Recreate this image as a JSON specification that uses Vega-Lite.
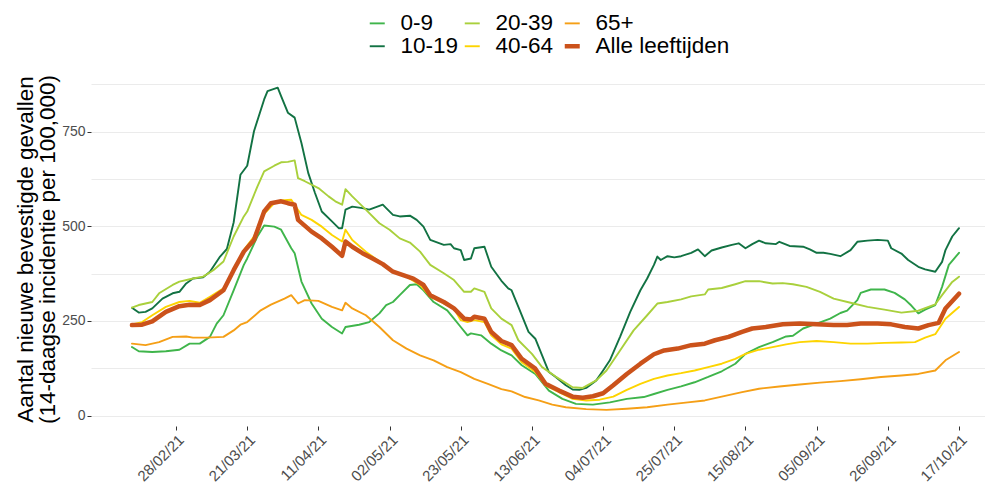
{
"$schema": "https://vega.github.io/schema/vega-lite/v6.json",
"autosize": {"type": "none"},
"padding": {"left": 91, "top": 72, "right": 0, "bottom": 62},
"width": 894,
"height": 354,
"background": "white",
"config": {"view": {"stroke": null}, "font": "Liberation Sans"},
"datasets": {
"d": [
{"groep":"0-9","datum":"2021-02-15","waarde":181},{"groep":"0-9","datum":"2021-02-17","waarde":170},{"groep":"0-9","datum":"2021-02-21","waarde":168},{"groep":"0-9","datum":"2021-02-25","waarde":170},{"groep":"0-9","datum":"2021-03-01","waarde":174},{"groep":"0-9","datum":"2021-03-04","waarde":190},{"groep":"0-9","datum":"2021-03-07","waarde":190},{"groep":"0-9","datum":"2021-03-10","waarde":208},{"groep":"0-9","datum":"2021-03-12","waarde":243},{"groep":"0-9","datum":"2021-03-14","waarde":265},{"groep":"0-9","datum":"2021-03-17","waarde":331},{"groep":"0-9","datum":"2021-03-20","waarde":398},{"groep":"0-9","datum":"2021-03-21","waarde":415},{"groep":"0-9","datum":"2021-03-24","waarde":473},{"groep":"0-9","datum":"2021-03-26","waarde":502},{"groep":"0-9","datum":"2021-03-29","waarde":499},{"groep":"0-9","datum":"2021-03-31","waarde":491},{"groep":"0-9","datum":"2021-04-03","waarde":442},{"groep":"0-9","datum":"2021-04-04","waarde":429},{"groep":"0-9","datum":"2021-04-06","waarde":354},{"groep":"0-9","datum":"2021-04-09","waarde":296},{"groep":"0-9","datum":"2021-04-12","waarde":256},{"groep":"0-9","datum":"2021-04-15","waarde":234},{"groep":"0-9","datum":"2021-04-18","waarde":217},{"groep":"0-9","datum":"2021-04-19","waarde":234},{"groep":"0-9","datum":"2021-04-23","waarde":240},{"groep":"0-9","datum":"2021-04-26","waarde":247},{"groep":"0-9","datum":"2021-04-29","waarde":270},{"groep":"0-9","datum":"2021-05-01","waarde":292},{"groep":"0-9","datum":"2021-05-03","waarde":300},{"groep":"0-9","datum":"2021-05-05","waarde":318},{"groep":"0-9","datum":"2021-05-08","waarde":345},{"groep":"0-9","datum":"2021-05-10","waarde":347},{"groep":"0-9","datum":"2021-05-12","waarde":331},{"groep":"0-9","datum":"2021-05-15","waarde":300},{"groep":"0-9","datum":"2021-05-19","waarde":278},{"groep":"0-9","datum":"2021-05-21","waarde":256},{"groep":"0-9","datum":"2021-05-23","waarde":234},{"groep":"0-9","datum":"2021-05-25","waarde":212},{"groep":"0-9","datum":"2021-05-26","waarde":217},{"groep":"0-9","datum":"2021-05-29","waarde":212},{"groep":"0-9","datum":"2021-06-01","waarde":190},{"groep":"0-9","datum":"2021-06-04","waarde":172},{"groep":"0-9","datum":"2021-06-07","waarde":159},{"groep":"0-9","datum":"2021-06-10","waarde":133},{"groep":"0-9","datum":"2021-06-14","waarde":110},{"groep":"0-9","datum":"2021-06-18","waarde":66},{"groep":"0-9","datum":"2021-06-22","waarde":44},{"groep":"0-9","datum":"2021-06-26","waarde":31},{"groep":"0-9","datum":"2021-07-01","waarde":29},{"groep":"0-9","datum":"2021-07-06","waarde":35},{"groep":"0-9","datum":"2021-07-11","waarde":44},{"groep":"0-9","datum":"2021-07-16","waarde":49},{"groep":"0-9","datum":"2021-07-19","waarde":57},{"groep":"0-9","datum":"2021-07-23","waarde":68},{"groep":"0-9","datum":"2021-07-27","waarde":77},{"groep":"0-9","datum":"2021-07-31","waarde":88},{"groep":"0-9","datum":"2021-08-04","waarde":102},{"groep":"0-9","datum":"2021-08-08","waarde":117},{"groep":"0-9","datum":"2021-08-12","waarde":137},{"groep":"0-9","datum":"2021-08-15","waarde":163},{"groep":"0-9","datum":"2021-08-19","waarde":181},{"groep":"0-9","datum":"2021-08-23","waarde":194},{"groep":"0-9","datum":"2021-08-27","waarde":209},{"groep":"0-9","datum":"2021-08-29","waarde":211},{"groep":"0-9","datum":"2021-09-01","waarde":230},{"groep":"0-9","datum":"2021-09-05","waarde":243},{"groep":"0-9","datum":"2021-09-09","waarde":256},{"groep":"0-9","datum":"2021-09-12","waarde":271},{"groep":"0-9","datum":"2021-09-14","waarde":277},{"groep":"0-9","datum":"2021-09-17","waarde":305},{"groep":"0-9","datum":"2021-09-18","waarde":324},{"groep":"0-9","datum":"2021-09-21","waarde":333},{"groep":"0-9","datum":"2021-09-25","waarde":333},{"groep":"0-9","datum":"2021-09-28","waarde":324},{"groep":"0-9","datum":"2021-10-01","waarde":307},{"groep":"0-9","datum":"2021-10-03","waarde":290},{"groep":"0-9","datum":"2021-10-05","waarde":270},{"groep":"0-9","datum":"2021-10-07","waarde":280},{"groep":"0-9","datum":"2021-10-10","waarde":292},{"groep":"0-9","datum":"2021-10-12","waarde":340},{"groep":"0-9","datum":"2021-10-14","waarde":398},{"groep":"0-9","datum":"2021-10-17","waarde":430},

{"groep":"10-19","datum":"2021-02-15","waarde":285},{"groep":"10-19","datum":"2021-02-17","waarde":272},{"groep":"10-19","datum":"2021-02-19","waarde":274},{"groep":"10-19","datum":"2021-02-21","waarde":283},{"groep":"10-19","datum":"2021-02-24","waarde":309},{"groep":"10-19","datum":"2021-02-27","waarde":323},{"groep":"10-19","datum":"2021-03-01","waarde":327},{"groep":"10-19","datum":"2021-03-03","waarde":349},{"groep":"10-19","datum":"2021-03-05","waarde":362},{"groep":"10-19","datum":"2021-03-08","waarde":365},{"groep":"10-19","datum":"2021-03-10","waarde":380},{"groep":"10-19","datum":"2021-03-13","waarde":420},{"groep":"10-19","datum":"2021-03-15","waarde":440},{"groep":"10-19","datum":"2021-03-17","waarde":510},{"groep":"10-19","datum":"2021-03-19","waarde":636},{"groep":"10-19","datum":"2021-03-21","waarde":660},{"groep":"10-19","datum":"2021-03-23","waarde":751},{"groep":"10-19","datum":"2021-03-26","waarde":835},{"groep":"10-19","datum":"2021-03-27","waarde":857},{"groep":"10-19","datum":"2021-03-30","waarde":866},{"groep":"10-19","datum":"2021-03-31","waarde":844},{"groep":"10-19","datum":"2021-04-02","waarde":800},{"groep":"10-19","datum":"2021-04-04","waarde":787},{"groep":"10-19","datum":"2021-04-06","waarde":720},{"groep":"10-19","datum":"2021-04-08","waarde":641},{"groep":"10-19","datum":"2021-04-10","waarde":588},{"groep":"10-19","datum":"2021-04-12","waarde":539},{"groep":"10-19","datum":"2021-04-15","waarde":513},{"groep":"10-19","datum":"2021-04-17","waarde":495},{"groep":"10-19","datum":"2021-04-18","waarde":495},{"groep":"10-19","datum":"2021-04-19","waarde":544},{"groep":"10-19","datum":"2021-04-21","waarde":552},{"groep":"10-19","datum":"2021-04-24","waarde":548},{"groep":"10-19","datum":"2021-04-26","waarde":544},{"groep":"10-19","datum":"2021-04-30","waarde":557},{"groep":"10-19","datum":"2021-05-01","waarde":548},{"groep":"10-19","datum":"2021-05-03","waarde":530},{"groep":"10-19","datum":"2021-05-05","waarde":526},{"groep":"10-19","datum":"2021-05-08","waarde":528},{"groep":"10-19","datum":"2021-05-10","waarde":517},{"groep":"10-19","datum":"2021-05-12","waarde":499},{"groep":"10-19","datum":"2021-05-14","waarde":464},{"groep":"10-19","datum":"2021-05-18","waarde":451},{"groep":"10-19","datum":"2021-05-20","waarde":453},{"groep":"10-19","datum":"2021-05-21","waarde":442},{"groep":"10-19","datum":"2021-05-23","waarde":437},{"groep":"10-19","datum":"2021-05-24","waarde":411},{"groep":"10-19","datum":"2021-05-26","waarde":415},{"groep":"10-19","datum":"2021-05-27","waarde":442},{"groep":"10-19","datum":"2021-05-30","waarde":446},{"groep":"10-19","datum":"2021-06-01","waarde":393},{"groep":"10-19","datum":"2021-06-04","waarde":356},{"groep":"10-19","datum":"2021-06-06","waarde":336},{"groep":"10-19","datum":"2021-06-07","waarde":331},{"groep":"10-19","datum":"2021-06-09","waarde":287},{"groep":"10-19","datum":"2021-06-12","waarde":221},{"groep":"10-19","datum":"2021-06-14","waarde":203},{"groep":"10-19","datum":"2021-06-16","waarde":159},{"groep":"10-19","datum":"2021-06-18","waarde":115},{"groep":"10-19","datum":"2021-06-20","waarde":102},{"groep":"10-19","datum":"2021-06-23","waarde":80},{"groep":"10-19","datum":"2021-06-25","waarde":69},{"groep":"10-19","datum":"2021-06-27","waarde":68},{"groep":"10-19","datum":"2021-06-29","waarde":73},{"groep":"10-19","datum":"2021-07-02","waarde":93},{"groep":"10-19","datum":"2021-07-04","waarde":119},{"groep":"10-19","datum":"2021-07-06","waarde":146},{"groep":"10-19","datum":"2021-07-09","waarde":208},{"groep":"10-19","datum":"2021-07-12","waarde":274},{"groep":"10-19","datum":"2021-07-15","waarde":331},{"groep":"10-19","datum":"2021-07-17","waarde":362},{"groep":"10-19","datum":"2021-07-19","waarde":398},{"groep":"10-19","datum":"2021-07-20","waarde":420},{"groep":"10-19","datum":"2021-07-21","waarde":411},{"groep":"10-19","datum":"2021-07-23","waarde":421},{"groep":"10-19","datum":"2021-07-25","waarde":418},{"groep":"10-19","datum":"2021-07-27","waarde":421},{"groep":"10-19","datum":"2021-07-30","waarde":430},{"groep":"10-19","datum":"2021-08-01","waarde":439},{"groep":"10-19","datum":"2021-08-03","waarde":421},{"groep":"10-19","datum":"2021-08-05","waarde":436},{"groep":"10-19","datum":"2021-08-08","waarde":444},{"groep":"10-19","datum":"2021-08-11","waarde":451},{"groep":"10-19","datum":"2021-08-13","waarde":455},{"groep":"10-19","datum":"2021-08-15","waarde":442},{"groep":"10-19","datum":"2021-08-17","waarde":453},{"groep":"10-19","datum":"2021-08-19","waarde":462},{"groep":"10-19","datum":"2021-08-21","waarde":455},{"groep":"10-19","datum":"2021-08-24","waarde":453},{"groep":"10-19","datum":"2021-08-25","waarde":459},{"groep":"10-19","datum":"2021-08-28","waarde":448},{"groep":"10-19","datum":"2021-09-01","waarde":446},{"groep":"10-19","datum":"2021-09-03","waarde":439},{"groep":"10-19","datum":"2021-09-05","waarde":430},{"groep":"10-19","datum":"2021-09-07","waarde":430},{"groep":"10-19","datum":"2021-09-09","waarde":427},{"groep":"10-19","datum":"2021-09-12","waarde":421},{"groep":"10-19","datum":"2021-09-15","waarde":437},{"groep":"10-19","datum":"2021-09-17","waarde":459},{"groep":"10-19","datum":"2021-09-20","waarde":462},{"groep":"10-19","datum":"2021-09-23","waarde":464},{"groep":"10-19","datum":"2021-09-26","waarde":462},{"groep":"10-19","datum":"2021-09-27","waarde":442},{"groep":"10-19","datum":"2021-09-30","waarde":428},{"groep":"10-19","datum":"2021-10-02","waarde":411},{"groep":"10-19","datum":"2021-10-05","waarde":393},{"groep":"10-19","datum":"2021-10-07","waarde":386},{"groep":"10-19","datum":"2021-10-10","waarde":380},{"groep":"10-19","datum":"2021-10-12","waarde":406},{"groep":"10-19","datum":"2021-10-13","waarde":437},{"groep":"10-19","datum":"2021-10-15","waarde":473},{"groep":"10-19","datum":"2021-10-17","waarde":495},

{"groep":"20-39","datum":"2021-02-15","waarde":285},{"groep":"20-39","datum":"2021-02-17","waarde":292},{"groep":"20-39","datum":"2021-02-21","waarde":300},{"groep":"20-39","datum":"2021-02-23","waarde":323},{"groep":"20-39","datum":"2021-02-27","waarde":345},{"groep":"20-39","datum":"2021-03-01","waarde":354},{"groep":"20-39","datum":"2021-03-05","waarde":362},{"groep":"20-39","datum":"2021-03-08","waarde":367},{"groep":"20-39","datum":"2021-03-11","waarde":384},{"groep":"20-39","datum":"2021-03-14","waarde":407},{"groep":"20-39","datum":"2021-03-17","waarde":473},{"groep":"20-39","datum":"2021-03-20","waarde":526},{"groep":"20-39","datum":"2021-03-21","waarde":539},{"groep":"20-39","datum":"2021-03-24","waarde":605},{"groep":"20-39","datum":"2021-03-26","waarde":645},{"groep":"20-39","datum":"2021-03-29","waarde":660},{"groep":"20-39","datum":"2021-03-31","waarde":669},{"groep":"20-39","datum":"2021-04-02","waarde":670},{"groep":"20-39","datum":"2021-04-04","waarde":674},{"groep":"20-39","datum":"2021-04-05","waarde":627},{"groep":"20-39","datum":"2021-04-07","waarde":619},{"groep":"20-39","datum":"2021-04-11","waarde":601},{"groep":"20-39","datum":"2021-04-14","waarde":579},{"groep":"20-39","datum":"2021-04-16","waarde":566},{"groep":"20-39","datum":"2021-04-18","waarde":557},{"groep":"20-39","datum":"2021-04-19","waarde":598},{"groep":"20-39","datum":"2021-04-21","waarde":579},{"groep":"20-39","datum":"2021-04-25","waarde":544},{"groep":"20-39","datum":"2021-04-29","waarde":508},{"groep":"20-39","datum":"2021-05-02","waarde":491},{"groep":"20-39","datum":"2021-05-05","waarde":468},{"groep":"20-39","datum":"2021-05-08","waarde":457},{"groep":"20-39","datum":"2021-05-11","waarde":433},{"groep":"20-39","datum":"2021-05-14","waarde":398},{"groep":"20-39","datum":"2021-05-18","waarde":376},{"groep":"20-39","datum":"2021-05-21","waarde":358},{"groep":"20-39","datum":"2021-05-24","waarde":327},{"groep":"20-39","datum":"2021-05-26","waarde":327},{"groep":"20-39","datum":"2021-05-27","waarde":336},{"groep":"20-39","datum":"2021-05-30","waarde":327},{"groep":"20-39","datum":"2021-06-01","waarde":283},{"groep":"20-39","datum":"2021-06-04","waarde":256},{"groep":"20-39","datum":"2021-06-07","waarde":239},{"groep":"20-39","datum":"2021-06-09","waarde":199},{"groep":"20-39","datum":"2021-06-13","waarde":163},{"groep":"20-39","datum":"2021-06-16","waarde":128},{"groep":"20-39","datum":"2021-06-20","waarde":103},{"groep":"20-39","datum":"2021-06-25","waarde":75},{"groep":"20-39","datum":"2021-06-28","waarde":73},{"groep":"20-39","datum":"2021-07-02","waarde":93},{"groep":"20-39","datum":"2021-07-05","waarde":119},{"groep":"20-39","datum":"2021-07-09","waarde":172},{"groep":"20-39","datum":"2021-07-13","waarde":225},{"groep":"20-39","datum":"2021-07-17","waarde":265},{"groep":"20-39","datum":"2021-07-20","waarde":296},{"groep":"20-39","datum":"2021-07-23","waarde":300},{"groep":"20-39","datum":"2021-07-27","waarde":307},{"groep":"20-39","datum":"2021-07-30","waarde":315},{"groep":"20-39","datum":"2021-08-03","waarde":320},{"groep":"20-39","datum":"2021-08-04","waarde":333},{"groep":"20-39","datum":"2021-08-08","waarde":337},{"groep":"20-39","datum":"2021-08-12","waarde":347},{"groep":"20-39","datum":"2021-08-15","waarde":355},{"groep":"20-39","datum":"2021-08-19","waarde":355},{"groep":"20-39","datum":"2021-08-23","waarde":349},{"groep":"20-39","datum":"2021-08-26","waarde":350},{"groep":"20-39","datum":"2021-08-29","waarde":347},{"groep":"20-39","datum":"2021-09-02","waarde":340},{"groep":"20-39","datum":"2021-09-06","waarde":327},{"groep":"20-39","datum":"2021-09-10","waarde":309},{"groep":"20-39","datum":"2021-09-15","waarde":298},{"groep":"20-39","datum":"2021-09-20","waarde":287},{"groep":"20-39","datum":"2021-09-25","waarde":280},{"groep":"20-39","datum":"2021-09-30","waarde":272},{"groep":"20-39","datum":"2021-10-05","waarde":277},{"groep":"20-39","datum":"2021-10-10","waarde":294},{"groep":"20-39","datum":"2021-10-12","waarde":318},{"groep":"20-39","datum":"2021-10-15","waarde":353},{"groep":"20-39","datum":"2021-10-17","waarde":367},

{"groep":"40-64","datum":"2021-02-15","waarde":241},{"groep":"40-64","datum":"2021-02-18","waarde":247},{"groep":"40-64","datum":"2021-02-21","waarde":265},{"groep":"40-64","datum":"2021-02-25","waarde":287},{"groep":"40-64","datum":"2021-03-01","waarde":300},{"groep":"40-64","datum":"2021-03-04","waarde":303},{"groep":"40-64","datum":"2021-03-07","waarde":298},{"groep":"40-64","datum":"2021-03-10","waarde":314},{"groep":"40-64","datum":"2021-03-14","waarde":336},{"groep":"40-64","datum":"2021-03-17","waarde":384},{"groep":"40-64","datum":"2021-03-20","waarde":437},{"groep":"40-64","datum":"2021-03-23","waarde":473},{"groep":"40-64","datum":"2021-03-26","waarde":533},{"groep":"40-64","datum":"2021-03-29","waarde":561},{"groep":"40-64","datum":"2021-03-31","waarde":568},{"groep":"40-64","datum":"2021-04-03","waarde":570},{"groep":"40-64","datum":"2021-04-06","waarde":530},{"groep":"40-64","datum":"2021-04-09","waarde":517},{"groep":"40-64","datum":"2021-04-12","waarde":499},{"groep":"40-64","datum":"2021-04-15","waarde":477},{"groep":"40-64","datum":"2021-04-18","waarde":460},{"groep":"40-64","datum":"2021-04-19","waarde":491},{"groep":"40-64","datum":"2021-04-21","waarde":464},{"groep":"40-64","datum":"2021-04-25","waarde":433},{"groep":"40-64","datum":"2021-04-29","waarde":407},{"groep":"40-64","datum":"2021-05-03","waarde":380},{"groep":"40-64","datum":"2021-05-07","waarde":367},{"groep":"40-64","datum":"2021-05-11","waarde":345},{"groep":"40-64","datum":"2021-05-14","waarde":314},{"groep":"40-64","datum":"2021-05-18","waarde":296},{"groep":"40-64","datum":"2021-05-21","waarde":283},{"groep":"40-64","datum":"2021-05-23","waarde":252},{"groep":"40-64","datum":"2021-05-25","waarde":247},{"groep":"40-64","datum":"2021-05-27","waarde":252},{"groep":"40-64","datum":"2021-05-30","waarde":247},{"groep":"40-64","datum":"2021-06-01","waarde":212},{"groep":"40-64","datum":"2021-06-04","waarde":188},{"groep":"40-64","datum":"2021-06-07","waarde":177},{"groep":"40-64","datum":"2021-06-10","waarde":141},{"groep":"40-64","datum":"2021-06-14","waarde":115},{"groep":"40-64","datum":"2021-06-17","waarde":80},{"groep":"40-64","datum":"2021-06-21","waarde":62},{"groep":"40-64","datum":"2021-06-25","waarde":44},{"groep":"40-64","datum":"2021-06-29","waarde":40},{"groep":"40-64","datum":"2021-07-03","waarde":42},{"groep":"40-64","datum":"2021-07-07","waarde":50},{"groep":"40-64","datum":"2021-07-11","waarde":68},{"groep":"40-64","datum":"2021-07-15","waarde":84},{"groep":"40-64","datum":"2021-07-19","waarde":97},{"groep":"40-64","datum":"2021-07-23","waarde":106},{"groep":"40-64","datum":"2021-07-27","waarde":112},{"groep":"40-64","datum":"2021-07-31","waarde":119},{"groep":"40-64","datum":"2021-08-04","waarde":128},{"groep":"40-64","datum":"2021-08-08","waarde":137},{"groep":"40-64","datum":"2021-08-12","waarde":150},{"groep":"40-64","datum":"2021-08-15","waarde":163},{"groep":"40-64","datum":"2021-08-19","waarde":174},{"groep":"40-64","datum":"2021-08-23","waarde":181},{"groep":"40-64","datum":"2021-08-27","waarde":188},{"groep":"40-64","datum":"2021-08-31","waarde":194},{"groep":"40-64","datum":"2021-09-05","waarde":197},{"groep":"40-64","datum":"2021-09-10","waarde":194},{"groep":"40-64","datum":"2021-09-15","waarde":190},{"groep":"40-64","datum":"2021-09-20","waarde":190},{"groep":"40-64","datum":"2021-09-25","waarde":192},{"groep":"40-64","datum":"2021-09-30","waarde":193},{"groep":"40-64","datum":"2021-10-04","waarde":194},{"groep":"40-64","datum":"2021-10-07","waarde":206},{"groep":"40-64","datum":"2021-10-10","waarde":215},{"groep":"40-64","datum":"2021-10-13","waarde":256},{"groep":"40-64","datum":"2021-10-17","waarde":287},

{"groep":"65+","datum":"2021-02-15","waarde":190},{"groep":"65+","datum":"2021-02-19","waarde":186},{"groep":"65+","datum":"2021-02-23","waarde":194},{"groep":"65+","datum":"2021-02-27","waarde":208},{"groep":"65+","datum":"2021-03-03","waarde":209},{"groep":"65+","datum":"2021-03-05","waarde":206},{"groep":"65+","datum":"2021-03-09","waarde":206},{"groep":"65+","datum":"2021-03-14","waarde":208},{"groep":"65+","datum":"2021-03-17","waarde":225},{"groep":"65+","datum":"2021-03-19","waarde":240},{"groep":"65+","datum":"2021-03-21","waarde":247},{"groep":"65+","datum":"2021-03-25","waarde":278},{"groep":"65+","datum":"2021-03-28","waarde":293},{"groep":"65+","datum":"2021-04-01","waarde":309},{"groep":"65+","datum":"2021-04-03","waarde":318},{"groep":"65+","datum":"2021-04-05","waarde":296},{"groep":"65+","datum":"2021-04-07","waarde":305},{"groep":"65+","datum":"2021-04-11","waarde":303},{"groep":"65+","datum":"2021-04-15","waarde":287},{"groep":"65+","datum":"2021-04-18","waarde":278},{"groep":"65+","datum":"2021-04-19","waarde":298},{"groep":"65+","datum":"2021-04-21","waarde":283},{"groep":"65+","datum":"2021-04-25","waarde":265},{"groep":"65+","datum":"2021-04-29","waarde":234},{"groep":"65+","datum":"2021-05-03","waarde":199},{"groep":"65+","datum":"2021-05-07","waarde":177},{"groep":"65+","datum":"2021-05-11","waarde":159},{"groep":"65+","datum":"2021-05-15","waarde":146},{"groep":"65+","datum":"2021-05-19","waarde":128},{"groep":"65+","datum":"2021-05-23","waarde":115},{"groep":"65+","datum":"2021-05-27","waarde":97},{"groep":"65+","datum":"2021-05-31","waarde":84},{"groep":"65+","datum":"2021-06-04","waarde":70},{"groep":"65+","datum":"2021-06-07","waarde":64},{"groep":"65+","datum":"2021-06-11","waarde":49},{"groep":"65+","datum":"2021-06-15","waarde":40},{"groep":"65+","datum":"2021-06-19","waarde":29},{"groep":"65+","datum":"2021-06-23","waarde":22},{"groep":"65+","datum":"2021-06-29","waarde":17},{"groep":"65+","datum":"2021-07-05","waarde":15},{"groep":"65+","datum":"2021-07-11","waarde":18},{"groep":"65+","datum":"2021-07-17","waarde":22},{"groep":"65+","datum":"2021-07-23","waarde":29},{"groep":"65+","datum":"2021-07-29","waarde":35},{"groep":"65+","datum":"2021-08-03","waarde":40},{"groep":"65+","datum":"2021-08-08","waarde":50},{"groep":"65+","datum":"2021-08-14","waarde":62},{"groep":"65+","datum":"2021-08-19","waarde":71},{"groep":"65+","datum":"2021-08-25","waarde":77},{"groep":"65+","datum":"2021-08-31","waarde":82},{"groep":"65+","datum":"2021-09-06","waarde":87},{"groep":"65+","datum":"2021-09-12","waarde":91},{"groep":"65+","datum":"2021-09-18","waarde":96},{"groep":"65+","datum":"2021-09-24","waarde":102},{"groep":"65+","datum":"2021-09-30","waarde":106},{"groep":"65+","datum":"2021-10-05","waarde":110},{"groep":"65+","datum":"2021-10-10","waarde":119},{"groep":"65+","datum":"2021-10-13","waarde":146},{"groep":"65+","datum":"2021-10-17","waarde":168},

{"groep":"Alle leeftijden","datum":"2021-02-15","waarde":239},{"groep":"Alle leeftijden","datum":"2021-02-18","waarde":240},{"groep":"Alle leeftijden","datum":"2021-02-21","waarde":249},{"groep":"Alle leeftijden","datum":"2021-02-25","waarde":274},{"groep":"Alle leeftijden","datum":"2021-03-01","waarde":289},{"groep":"Alle leeftijden","datum":"2021-03-04","waarde":293},{"groep":"Alle leeftijden","datum":"2021-03-07","waarde":292},{"groep":"Alle leeftijden","datum":"2021-03-10","waarde":305},{"groep":"Alle leeftijden","datum":"2021-03-14","waarde":331},{"groep":"Alle leeftijden","datum":"2021-03-17","waarde":384},{"groep":"Alle leeftijden","datum":"2021-03-20","waarde":433},{"groep":"Alle leeftijden","datum":"2021-03-23","waarde":464},{"groep":"Alle leeftijden","datum":"2021-03-26","waarde":539},{"groep":"Alle leeftijden","datum":"2021-03-28","waarde":561},{"groep":"Alle leeftijden","datum":"2021-03-31","waarde":566},{"groep":"Alle leeftijden","datum":"2021-04-02","waarde":561},{"groep":"Alle leeftijden","datum":"2021-04-04","waarde":557},{"groep":"Alle leeftijden","datum":"2021-04-05","waarde":517},{"groep":"Alle leeftijden","datum":"2021-04-09","waarde":486},{"groep":"Alle leeftijden","datum":"2021-04-12","waarde":468},{"groep":"Alle leeftijden","datum":"2021-04-15","waarde":446},{"groep":"Alle leeftijden","datum":"2021-04-18","waarde":422},{"groep":"Alle leeftijden","datum":"2021-04-19","waarde":460},{"groep":"Alle leeftijden","datum":"2021-04-21","waarde":446},{"groep":"Alle leeftijden","datum":"2021-04-24","waarde":429},{"groep":"Alle leeftijden","datum":"2021-04-27","waarde":415},{"groep":"Alle leeftijden","datum":"2021-04-30","waarde":400},{"groep":"Alle leeftijden","datum":"2021-05-03","waarde":380},{"groep":"Alle leeftijden","datum":"2021-05-06","waarde":371},{"groep":"Alle leeftijden","datum":"2021-05-09","waarde":362},{"groep":"Alle leeftijden","datum":"2021-05-12","waarde":345},{"groep":"Alle leeftijden","datum":"2021-05-14","waarde":318},{"groep":"Alle leeftijden","datum":"2021-05-18","waarde":300},{"groep":"Alle leeftijden","datum":"2021-05-21","waarde":283},{"groep":"Alle leeftijden","datum":"2021-05-24","waarde":256},{"groep":"Alle leeftijden","datum":"2021-05-26","waarde":254},{"groep":"Alle leeftijden","datum":"2021-05-27","waarde":261},{"groep":"Alle leeftijden","datum":"2021-05-30","waarde":256},{"groep":"Alle leeftijden","datum":"2021-06-01","waarde":221},{"groep":"Alle leeftijden","datum":"2021-06-04","waarde":197},{"groep":"Alle leeftijden","datum":"2021-06-07","waarde":186},{"groep":"Alle leeftijden","datum":"2021-06-10","waarde":150},{"groep":"Alle leeftijden","datum":"2021-06-14","waarde":124},{"groep":"Alle leeftijden","datum":"2021-06-17","waarde":84},{"groep":"Alle leeftijden","datum":"2021-06-21","waarde":66},{"groep":"Alle leeftijden","datum":"2021-06-25","waarde":50},{"groep":"Alle leeftijden","datum":"2021-06-28","waarde":47},{"groep":"Alle leeftijden","datum":"2021-07-01","waarde":51},{"groep":"Alle leeftijden","datum":"2021-07-04","waarde":59},{"groep":"Alle leeftijden","datum":"2021-07-07","waarde":80},{"groep":"Alle leeftijden","datum":"2021-07-11","waarde":110},{"groep":"Alle leeftijden","datum":"2021-07-15","waarde":137},{"groep":"Alle leeftijden","datum":"2021-07-19","waarde":162},{"groep":"Alle leeftijden","datum":"2021-07-22","waarde":172},{"groep":"Alle leeftijden","datum":"2021-07-26","waarde":177},{"groep":"Alle leeftijden","datum":"2021-07-30","waarde":186},{"groep":"Alle leeftijden","datum":"2021-08-03","waarde":190},{"groep":"Alle leeftijden","datum":"2021-08-06","waarde":199},{"groep":"Alle leeftijden","datum":"2021-08-10","waarde":208},{"groep":"Alle leeftijden","datum":"2021-08-14","waarde":221},{"groep":"Alle leeftijden","datum":"2021-08-17","waarde":230},{"groep":"Alle leeftijden","datum":"2021-08-21","waarde":234},{"groep":"Alle leeftijden","datum":"2021-08-26","waarde":241},{"groep":"Alle leeftijden","datum":"2021-08-31","waarde":243},{"groep":"Alle leeftijden","datum":"2021-09-05","waarde":241},{"groep":"Alle leeftijden","datum":"2021-09-10","waarde":239},{"groep":"Alle leeftijden","datum":"2021-09-14","waarde":239},{"groep":"Alle leeftijden","datum":"2021-09-18","waarde":243},{"groep":"Alle leeftijden","datum":"2021-09-23","waarde":243},{"groep":"Alle leeftijden","datum":"2021-09-27","waarde":241},{"groep":"Alle leeftijden","datum":"2021-10-01","waarde":234},{"groep":"Alle leeftijden","datum":"2021-10-05","waarde":230},{"groep":"Alle leeftijden","datum":"2021-10-08","waarde":239},{"groep":"Alle leeftijden","datum":"2021-10-11","waarde":245},{"groep":"Alle leeftijden","datum":"2021-10-13","waarde":283},{"groep":"Alle leeftijden","datum":"2021-10-17","waarde":322}
]
},
"data": {"name": "d"},
"mark": {"type": "line", "clip": true, "strokeJoin": "round", "strokeCap": "round"},
"encoding": {
"x": {
"field": "datum", "type": "temporal",
"scale": {"type": "utc", "domain": [{"year": 2021, "month": 2, "date": 2, "hours": 22, "utc": true}, {"year": 2021, "month": 10, "date": 24, "hours": 16, "utc": true}]},
"axis": {
"values": [
{"year": 2021, "month": 2, "date": 28, "utc": true},
{"year": 2021, "month": 3, "date": 21, "utc": true},
{"year": 2021, "month": 4, "date": 11, "utc": true},
{"year": 2021, "month": 5, "date": 2, "utc": true},
{"year": 2021, "month": 5, "date": 23, "utc": true},
{"year": 2021, "month": 6, "date": 13, "utc": true},
{"year": 2021, "month": 7, "date": 4, "utc": true},
{"year": 2021, "month": 7, "date": 25, "utc": true},
{"year": 2021, "month": 8, "date": 15, "utc": true},
{"year": 2021, "month": 9, "date": 5, "utc": true},
{"year": 2021, "month": 9, "date": 26, "utc": true},
{"year": 2021, "month": 10, "date": 17, "utc": true}
],
"labelExpr": "utcFormat(datum.value, '%d/%m/%y')",
"labelAngle": -45, "labelAlign": "right", "labelBaseline": "top",
"labelFontSize": 15, "labelColor": "#4d4d4d", "labelPadding": 2,
"tickColor": "#333333", "tickSize": 4, "tickWidth": 1,
"domain": false, "grid": false, "title": null, "labelOverlap": false
}
},
"y": {
"field": "waarde", "type": "quantitative",
"scale": {"domain": [-27.5, 907.5], "nice": false, "zero": false},
"axis": {
"values": [0, 125, 250, 375, 500, 625, 750, 875],
"labelExpr": "datum.value % 250 === 0 ? datum.label : ''",
"tickOpacity": {"condition": {"test": "datum.value % 250 !== 0", "value": 0}, "value": 1},
"tickColor": "#333333", "tickSize": 4, "tickWidth": 1,
"grid": true, "gridColor": "#ebebeb", "gridWidth": 1,
"domain": false,
"labelFontSize": 14, "labelColor": "#4d4d4d", "labelPadding": 2,
"title": ["Aantal nieuwe bevestigde gevallen", "(14-daagse incidentie per 100,000)"],
"titleFontSize": 22.5, "titleFontWeight": "normal", "titleColor": "black",
"titlePadding": 2, "titleLineHeight": 22
}
},
"color": {
"field": "groep", "type": "nominal",
"scale": {"domain": ["0-9", "20-39", "65+", "10-19", "40-64", "Alle leeftijden"],
"range": ["#3fb54b", "#a9d03c", "#f59f16", "#127243", "#fdd400", "#cb521b"]},
"legend": {
"orient": "none", "legendX": 275, "legendY": -60, "direction": "horizontal",
"columns": 3, "columnPadding": 1, "rowPadding": -7, "padding": 0,
"title": null, "symbolType": "stroke", "symbolSize": 225,
"labelFontSize": 22.5, "labelColor": "black", "labelOffset": 12, "labelLimit": 300
}
},
"strokeWidth": {
"field": "groep", "type": "nominal",
"scale": {"type": "ordinal", "domain": ["0-9", "20-39", "65+", "10-19", "40-64", "Alle leeftijden"],
"range": [1.9, 1.9, 1.9, 1.9, 1.9, 4.5]},
"legend": {
"orient": "none", "legendX": 275, "legendY": -60, "direction": "horizontal",
"columns": 3, "columnPadding": 1, "rowPadding": -7, "padding": 0,
"title": null, "symbolType": "stroke", "symbolSize": 225,
"labelFontSize": 22.5, "labelColor": "black", "labelOffset": 12, "labelLimit": 300
}
}
}
}
